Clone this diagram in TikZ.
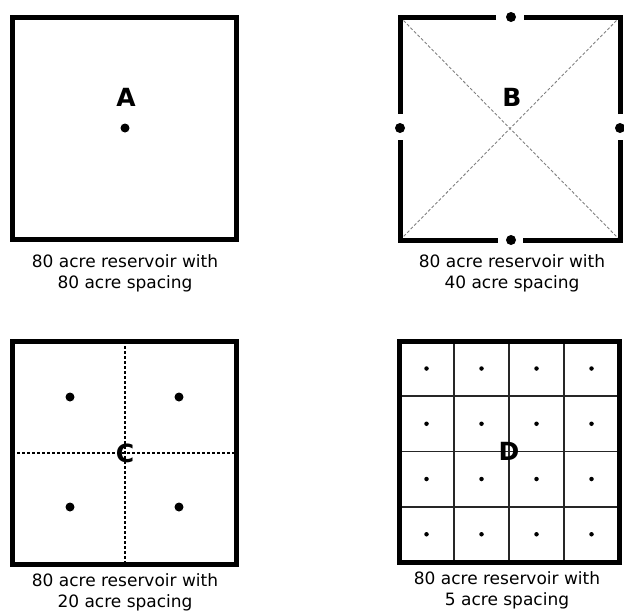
\documentclass[tikz,border=0pt]{standalone}
\usepackage{fontspec}
\setmainfont{DejaVu Sans}
\usetikzlibrary{positioning}

\begin{document}
\begin{tikzpicture}[x=1pt, y=-1pt,
  frame/.style={line width=5pt, line join=miter},
  grid/.style={line width=1.8pt, black!85},
  diag/.style={gray, line width=0.9pt, dash pattern=on 3pt off 2pt},
  split/.style={line width=1.3pt, dash pattern=on 3pt off 2pt},
  well/.style={circle, fill=black, inner sep=0pt, minimum size=9pt},
  smallwell/.style={circle, fill=black, inner sep=0pt, minimum size=4.5pt},
  letter/.style={inner sep=0pt, font=\bfseries\fontsize{25}{25}\selectfont},
  caption/.style={align=center, inner sep=0pt, font=\fontsize{17}{21}\selectfont}
]
\useasboundingbox (0,0) rectangle (624,614);

% A
\draw[frame] (12,17) rectangle (236,239);
\node[letter] (labA) at (126,97) {A};
\node[well] (wellA) at (125,128) {};
\node[caption] (capA) at (125,273) {80 acre reservoir with\\80 acre spacing};

% B
\coordinate (Bnw) at (400,17);
\coordinate (Bse) at (620,240);
\coordinate (Bne) at (620,17);
\coordinate (Bsw) at (400,240);
\draw[diag] (Bnw) -- (Bse);
\draw[diag] (Bne) -- (Bsw);
\node[well, minimum size=10pt] (Bt) at (511,17) {};
\node[well, minimum size=10pt] (Bb) at (511,240) {};
\node[well, minimum size=10pt] (Bl) at (400,128) {};
\node[well, minimum size=10pt] (Br) at (620,128) {};
\draw[frame] ([xshift=-15pt]Bt.center) -| ([yshift=14pt]Bl.center);
\draw[frame] ([yshift=-12pt]Bl.center) |- ([xshift=-13pt]Bb.center);
\draw[frame] ([xshift=12pt]Bb.center) -| ([yshift=-12pt]Br.center);
\draw[frame] ([yshift=14pt]Br.center) |- ([xshift=13pt]Bt.center);
\node[letter] (labB) at (512,97) {B};
\node[caption] (capB) at (512,273) {80 acre reservoir with\\40 acre spacing};

% C
\draw[split] (125,341) -- (125,564);
\draw[split] (12,453) -- (236,453);
\draw[frame] (12,341) rectangle (236,564);
\node[well] (c1) at (70,397) {};
\node[well] (c2) at (179,397) {};
\node[well] (c3) at (70,507) {};
\node[well] (c4) at (179,507) {};
\node[letter] (labC) at (125,453) {C};
\node[caption] (capC) at (125,592) {80 acre reservoir with\\20 acre spacing};

% D
\foreach \i in {1,2,3} {
  \draw[grid] (399+55*\i,341) -- (399+55*\i,562);
  \draw[grid] (399,341+55.25*\i) -- (619,341+55.25*\i);
}
\draw[frame] (399,341) rectangle (619,562);
\foreach \i in {0,...,3}
  \foreach \j in {0,...,3}
    \node[smallwell] (d\i\j) at (426.5+55*\i,368.5+55.25*\j) {};
\node[letter] (labD) at (509,451) {D};
\node[caption] (capD) at (507,590) {80 acre reservoir with\\5 acre spacing};
\end{tikzpicture}
\end{document}
